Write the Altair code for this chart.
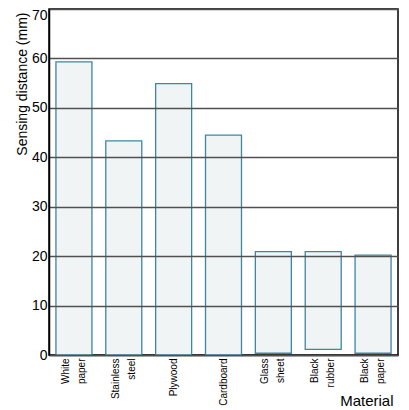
import altair as alt
import pandas as pd

materials = ["White paper", "Stainless steel", "Plywood", "Cardboard",
             "Glass sheet", "Black rubber", "Black paper"]
top_values = [59.3, 43.3, 54.9, 44.5, 20.9, 20.9, 20.2]
base_values = [0, 0, 0, 0, 0.35, 1.15, 0.35]
y_ticks = [0, 10, 20, 30, 40, 50, 60, 70]

df = pd.DataFrame({"Material": materials, "top": top_values, "base": base_values})

FONT = "Liberation Sans"

bars = alt.Chart(df).mark_bar(
    width=36, fill="#f0f4f5", stroke="#3f86a0", strokeWidth=1.3
).encode(
    x=alt.X("Material:N", sort=materials,
            scale=alt.Scale(paddingInner=0.28, paddingOuter=0.14),
            axis=alt.Axis(
                title="Material", labelAngle=270, labelAlign="right",
                labelBaseline="middle", labelPadding=3, labelFontSize=10,
                labelLineHeight=16, labelFont=FONT, labelColor="#000",
                labelExpr="split(datum.label, ' ')",
                labelOffset={"condition": {"test": "indexof(datum.label, ' ') >= 0",
                                           "value": -8}, "value": 0},
                ticks=False, domainColor="#000", domainWidth=1.5,
                titleFont=FONT, titleFontSize=15, titleFontWeight="normal",
                titleColor="#000", titleAnchor="end", titleAlign="right",
                titleBaseline="alphabetic", titleX=344, titleY=50)),
    y=alt.Y("top:Q", scale=alt.Scale(domain=[0, 70], nice=False),
            axis=alt.Axis(
                title="Sensing distance (mm)", values=y_ticks, ticks=False,
                labelPadding=2, labelFontSize=14, labelFont=FONT,
                labelColor="#000",
                labelOffset={"condition": {"test": "datum.value == 70", "value": 6},
                             "value": 0},
                grid=True, gridColor="#505050",
                gridWidth=1.6, domainColor="#000", domainWidth=1.5,
                zindex=1, titleFont=FONT, titleFontSize=14,
                titleFontWeight="normal", titleColor="#000",
                titleAngle=270, titleAlign="right", titleBaseline="middle",
                titleAnchor="end", titleX=-27, titleY=3)),
    y2="base:Q",
)

chart = bars.properties(
    width=349, height=346,
    autosize=alt.AutoSizeParams(type="none"),
    padding={"left": 41, "top": 1, "right": 3, "bottom": 52},
).configure_view(stroke="#000", strokeWidth=1.5)

chart.save("out.html", embed_options={"renderer": "svg", "actions": False})
